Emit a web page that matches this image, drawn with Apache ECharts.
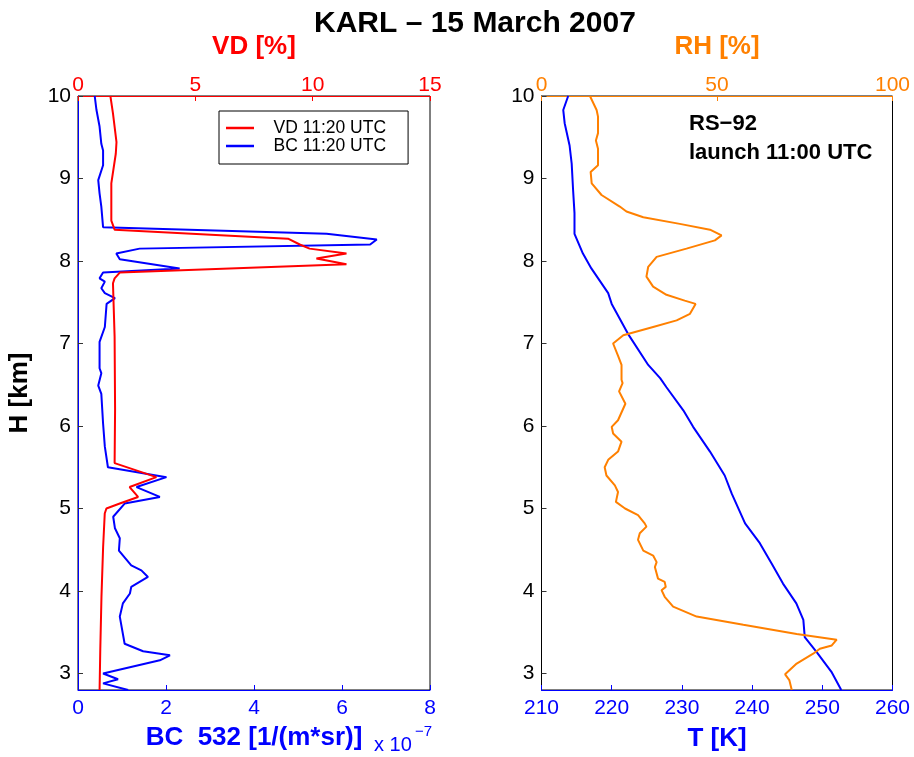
<!DOCTYPE html>
<html>
<head>
<meta charset="utf-8">
<script src="https://cdn.jsdelivr.net/npm/echarts@6/dist/echarts.min.js"></script>
<style>
html, body { margin: 0; padding: 0; background: #fff; }
#container { width: 914px; height: 757px; }
</style>
</head>
<body>
<div id="container"></div>
<script>
// KARL lidar + RS-92 radiosonde, 15 March 2007
var dom = document.getElementById("container");
var myChart = echarts.init(dom);
var FONT = "Liberation Sans, Arial, sans-serif";

// heights [km] and values
var vdHeight = [10.0, 9.79, 9.44, 9.30, 8.94, 8.49, 8.38, 8.27, 8.20, 8.15, 8.09, 8.03, 7.96, 7.86, 7.79, 7.73, 7.08, 6.20, 5.55, 5.38, 5.26, 5.14, 5.06, 5.00, 4.94, 4.53, 3.93, 3.30, 2.80];
var vdValue  = [1.38, 1.49, 1.64, 1.61, 1.42, 1.42, 1.56, 8.95, 9.45, 9.87, 11.44, 10.16, 11.44, 1.78, 1.56, 1.49, 1.56, 1.58, 1.56, 3.34, 2.20, 2.56, 1.78, 1.21, 1.14, 1.07, 1.00, 0.95, 0.92];

var bcHeight = [10.0, 9.83, 9.63, 9.42, 9.34, 9.16, 8.98, 8.82, 8.66, 8.41, 8.33, 8.26, 8.20, 8.15, 8.09, 8.02, 7.91, 7.86, 7.79, 7.75, 7.67, 7.61, 7.55, 7.48, 7.20, 7.02, 6.70, 6.64, 6.49, 6.39, 6.03, 5.75, 5.50, 5.38, 5.26, 5.14, 5.06, 4.90, 4.76, 4.64, 4.49, 4.31, 4.25, 4.17, 4.05, 3.97, 3.85, 3.69, 3.36, 3.27, 3.22, 3.16, 3.00, 2.93, 2.88, 2.80];
var bcValue  = [0.38, 0.42, 0.49, 0.53, 0.57, 0.57, 0.46, 0.49, 0.53, 0.57, 5.65, 6.79, 6.64, 1.40, 0.87, 0.95, 2.31, 0.57, 0.49, 0.61, 0.53, 0.61, 0.84, 0.65, 0.61, 0.49, 0.49, 0.53, 0.46, 0.53, 0.57, 0.61, 0.68, 2.01, 1.33, 1.86, 1.06, 0.80, 0.84, 0.95, 0.93, 1.21, 1.44, 1.59, 1.21, 1.18, 1.02, 0.95, 1.06, 1.48, 2.09, 1.86, 0.57, 0.91, 0.57, 1.14];

var tHeight = [10.0, 9.83, 9.67, 9.40, 9.18, 8.86, 8.58, 8.33, 8.09, 7.91, 7.61, 7.48, 7.12, 6.74, 6.58, 6.47, 6.19, 5.99, 5.69, 5.40, 5.18, 4.82, 4.58, 4.33, 4.09, 3.85, 3.65, 3.44, 3.26, 3.02, 2.80];
var tValue  = [213.8, 213.1, 213.3, 214.0, 214.3, 214.5, 214.7, 214.7, 215.9, 217.1, 219.5, 220.0, 222.3, 225.2, 226.9, 227.8, 230.2, 231.6, 234.0, 236.1, 237.1, 239.0, 241.1, 242.8, 244.4, 246.3, 247.3, 247.5, 249.2, 251.3, 252.7];

var rhHeight = [10.0, 9.83, 9.75, 9.55, 9.46, 9.36, 9.16, 9.08, 8.94, 8.80, 8.66, 8.60, 8.53, 8.45, 8.38, 8.31, 8.25, 8.15, 8.05, 7.93, 7.81, 7.69, 7.59, 7.52, 7.48, 7.36, 7.28, 7.20, 7.10, 7.00, 6.84, 6.74, 6.56, 6.52, 6.42, 6.27, 6.07, 5.99, 5.91, 5.81, 5.69, 5.59, 5.50, 5.40, 5.28, 5.20, 5.08, 5.00, 4.92, 4.82, 4.78, 4.70, 4.62, 4.49, 4.43, 4.35, 4.29, 4.15, 4.11, 4.05, 4.01, 3.93, 3.81, 3.69, 3.59, 3.48, 3.41, 3.34, 3.30, 3.24, 3.12, 2.99, 2.92, 2.80];
var rhValue  = [13.8, 15.7, 16.1, 16.1, 15.5, 16.1, 16.1, 14.0, 14.3, 17.1, 22.3, 24.2, 29.0, 39.4, 48.0, 51.3, 49.4, 41.3, 32.8, 30.4, 29.9, 31.8, 35.6, 40.8, 43.9, 42.3, 38.5, 31.8, 23.3, 20.4, 21.9, 22.8, 22.8, 23.1, 22.1, 23.9, 21.8, 20.0, 20.4, 22.8, 21.8, 19.0, 18.0, 18.5, 20.9, 21.8, 21.2, 23.8, 27.5, 29.4, 29.9, 28.0, 27.5, 29.0, 31.8, 32.8, 32.3, 33.2, 35.1, 35.4, 34.2, 35.1, 37.5, 44.2, 57.5, 72.7, 84.1, 82.7, 79.3, 77.4, 72.7, 69.4, 70.6, 71.3];

var zip = function (xs, hs) {
    var res = [];
    for (var i = 0; i < xs.length; i++) {
        res.push([xs[i], hs[i]]);
    }
    return res;
};

var RED = '#ff0000', BLUE = '#0000ff', ORANGE = '#ff8000';

var xAxisOf = function (grid, pos, min, max, step, color, name, gap) {
    return {
        type: 'value', gridIndex: grid, position: pos,
        min: min, max: max, interval: step,
        name: name, nameLocation: 'middle', nameGap: gap,
        nameTextStyle: { color: color, fontSize: 26, fontWeight: 'bold', fontFamily: FONT },
        axisLine: { show: true, lineStyle: { color: color, width: 1 } },
        axisTick: { show: true, inside: true, length: 5, lineStyle: { color: color } },
        axisLabel: { color: color, fontSize: 21, fontFamily: FONT, margin: pos === 'top' ? 0 : 8 },
        splitLine: { show: false }
    };
};

var yAxisOf = function (grid, lineColor) {
    return {
        type: 'value', gridIndex: grid,
        min: 2.8, max: 10, minInterval: 1, maxInterval: 1,
        name: grid === 0 ? 'H [km]' : '', nameLocation: 'middle', nameGap: 45,
        nameTextStyle: { color: '#000', fontSize: 26, fontWeight: 'bold', fontFamily: FONT },
        axisLine: { show: true, lineStyle: { color: lineColor, width: 1 } },
        axisTick: { show: true, inside: true, length: 5, lineStyle: { color: '#333' } },
        axisLabel: { color: '#000', fontSize: 21, fontFamily: FONT, margin: 7, showMinLabel: false },
        splitLine: { show: false }
    };
};

option = {
    backgroundColor: '#fff',
    animation: false,
    title: {
        text: 'KARL \u2013 15 March 2007',
        left: 309, top: 4,
        textStyle: { color: '#000', fontSize: 30, fontWeight: 'bold', fontFamily: FONT }
    },
    legend: {
        data: ['VD 11:20 UTC', 'BC 11:20 UTC'],
        orient: 'vertical',
        left: 219, top: 111,
        icon: 'rect', itemWidth: 28, itemHeight: 2.5, itemGap: 0,
        padding: [8, 22, 9, 7],
        borderColor: '#000', borderWidth: 1,
        formatter: function (name) { return '   ' + name; },
        textStyle: { color: '#000', fontSize: 17.5, lineHeight: 16, fontFamily: FONT }
    },
    grid: [
        { left: 78, top: 96, width: 352, height: 594, show: true, borderColor: '#000', borderWidth: 1 },
        { left: 541.5, top: 96, width: 351, height: 594, show: true, borderColor: '#000', borderWidth: 1 }
    ],
    xAxis: [
        xAxisOf(0, 'bottom', 0, 8, 2, BLUE, 'BC  532 [1/(m*sr)]', 35),
        xAxisOf(0, 'top', 0, 15, 5, RED, 'VD [%]', 36),
        xAxisOf(1, 'bottom', 210, 260, 10, BLUE, 'T [K]', 36),
        xAxisOf(1, 'top', 0, 100, 50, ORANGE, 'RH [%]', 36)
    ],
    yAxis: [
        yAxisOf(0, BLUE),
        yAxisOf(1, '#000')
    ],
    graphic: [
        { type: 'text', left: 374, top: 735, style: { text: 'x 10', fill: BLUE, font: '20px ' + FONT } },
        { type: 'text', left: 415, top: 724, style: { text: '\u22127', fill: BLUE, font: '15px ' + FONT } },
        { type: 'text', left: 689, top: 113, style: { text: 'RS\u221292', fill: '#000', font: 'bold 22px ' + FONT } },
        { type: 'text', left: 689, top: 142, style: { text: 'launch 11:00 UTC', fill: '#000', font: 'bold 22px ' + FONT } }
    ],
    series: [
        {
            name: 'VD 11:20 UTC', type: 'line', xAxisIndex: 1, yAxisIndex: 0,
            data: zip(vdValue, vdHeight), showSymbol: false, smooth: false,
            lineStyle: { color: RED, width: 2 }, itemStyle: { color: RED }, z: 3
        },
        {
            name: 'BC 11:20 UTC', type: 'line', xAxisIndex: 0, yAxisIndex: 0,
            data: zip(bcValue, bcHeight), showSymbol: false,
            lineStyle: { color: BLUE, width: 2 }, itemStyle: { color: BLUE }, z: 2
        },
        {
            name: 'T', type: 'line', xAxisIndex: 2, yAxisIndex: 1,
            data: zip(tValue, tHeight), showSymbol: false,
            lineStyle: { color: BLUE, width: 2 }, itemStyle: { color: BLUE }
        },
        {
            name: 'RH', type: 'line', xAxisIndex: 3, yAxisIndex: 1,
            data: zip(rhValue, rhHeight), showSymbol: false,
            lineStyle: { color: ORANGE, width: 2 }, itemStyle: { color: ORANGE }
        }
    ]
};
if (option && typeof option === "object") {
    myChart.setOption(option, true);
}
</script>
</body>
</html>
